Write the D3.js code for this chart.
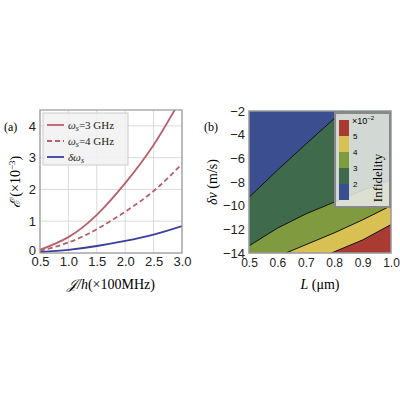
<!DOCTYPE html><html><head><script src="https://d3js.org/d3.v7.min.js"></script>
<style>body{margin:0;background:#fff}text{font-family:"Liberation Sans",Arial,sans-serif}</style></head><body>
<svg id="s" width="400" height="400"></svg>
<script>
const xA=[0.5,1.0,1.5,2.0,2.5,3.0];
const s3=[0.1,0.5,1.2,2.2,3.4,4.9];
const s4=[0.07,0.33,0.75,1.3,1.95,2.8];
const sd=[0.03,0.1,0.22,0.38,0.58,0.85];
const leftTicksX=[0.5,1.0,1.5,2.0,2.5,3.0];
const leftTicksY=[0,1,2,3,4];
const b2=[[0.5,-9.3],[0.6,-7.0],[0.7,-4.8],[0.83,-2]];
const b3=[[0.5,-13.4],[0.6,-11.9],[0.7,-10.7],[0.8,-9.7],[0.9,-8.7],[1.0,-7.8]];
const b4=[[0.63,-14],[0.7,-13.3],[0.8,-12.3],[0.9,-11.2],[1.0,-10.0]];
const b5=[[0.79,-14],[0.9,-12.9],[1.0,-11.6]];
const levels=[2,3,4,5,6];
const colors=["#3b4f90","#3f6a4c","#7f9a3f","#d8c052","#a93b33"];
const rightTicksX=[0.5,0.6,0.7,0.8,0.9,1.0];
const rightTicksY=[-14,-12,-10,-8,-6,-4,-2];

const svg=d3.select("#s");
const x=d3.scaleLinear([0.5,3.0],[40,182]);
const y=d3.scaleLinear([0,4.5],[253,110]);
const L=svg.append("g");
L.append("defs").append("clipPath").attr("id","cl").append("rect").attr("x",40).attr("y",110).attr("width",142).attr("height",143);
L.selectAll(".gx").data(leftTicksX).join("line").attr("x1",d=>x(d)).attr("x2",d=>x(d)).attr("y1",110).attr("y2",253).attr("stroke","#ccc").attr("stroke-width",0.7);
L.selectAll(".gy").data(leftTicksY).join("line").attr("y1",d=>y(d)).attr("y2",d=>y(d)).attr("x1",40).attr("x2",182).attr("stroke","#ccc").attr("stroke-width",0.7);
const ln=d3.line().x((d,i)=>x(xA[i])).y(d=>y(d)).curve(d3.curveNatural);
const cg=L.append("g").attr("clip-path","url(#cl)");
cg.append("path").attr("d",ln(s3)).attr("fill","none").attr("stroke","#b5606a").attr("stroke-width",1.8);
cg.append("path").attr("d",ln(s4)).attr("fill","none").attr("stroke","#b5606a").attr("stroke-width",1.8).attr("stroke-dasharray","5,3");
cg.append("path").attr("d",ln(sd)).attr("fill","none").attr("stroke","#3a3f9c").attr("stroke-width",1.8);
L.append("rect").attr("x",40).attr("y",110).attr("width",142).attr("height",143).attr("fill","none").attr("stroke","#999").attr("stroke-width",1.2);
L.append("g").attr("transform","translate(0,253)").call(d3.axisBottom(x).tickValues(leftTicksX).tickFormat(d3.format(".1f")).tickSize(0).tickPadding(4)).call(g=>{g.select(".domain").remove();g.selectAll("text").attr("font-size",13).attr("fill","#222");});
L.append("g").attr("transform","translate(40,0)").call(d3.axisLeft(y).tickValues(leftTicksY).tickFormat(d3.format("d")).tickSize(0).tickPadding(4)).call(g=>{g.select(".domain").remove();g.selectAll("text").attr("font-size",13).attr("fill","#222");g.selectAll(".tick text").filter(d=>d===0).attr("dy","0.1em");});
L.append("rect").attr("x",43).attr("y",113).attr("width",85).attr("height",52).attr("fill","#f2f2f2").attr("fill-opacity",0.9).attr("stroke","#ccc");
const leg=[["ω","s","=3 GHz","#b5606a",null],["ω","s","=4 GHz","#b5606a","5,3"],["δω","s","","#3a3f9c",null]];
leg.forEach((d,i)=>{const yy=125+i*16;
L.append("line").attr("x1",47).attr("x2",64).attr("y1",yy).attr("y2",yy).attr("stroke",d[3]).attr("stroke-width",1.8).attr("stroke-dasharray",d[4]);
const t=L.append("text").attr("x",68).attr("y",yy+4).attr("font-size",11).style("font-family","'Liberation Serif',serif").attr("fill","#222");
t.append("tspan").attr("font-style","italic").text(d[0]);t.append("tspan").attr("font-style","italic").attr("font-size",8).attr("dy",2).text(d[1]);t.append("tspan").attr("dy",-2).text(d[2]);});
L.append("text").attr("x",4).attr("y",131).attr("font-size",12).style("font-family","'Liberation Serif',serif").text("(a)");
const yl=L.append("text").attr("transform","translate(20,182) rotate(-90)").attr("text-anchor","middle").attr("font-size",14).style("font-family","'Liberation Serif',serif");
yl.append("tspan").attr("font-style","italic").text("ℰ ");yl.append("tspan").text("(×10");yl.append("tspan").attr("font-size",9).attr("dy",-5).text("−3");yl.append("tspan").attr("dy",5).text(")");
const xl=L.append("text").attr("x",111).attr("y",289).attr("text-anchor","middle").attr("font-size",14).style("font-family","'Liberation Serif',serif");
xl.append("tspan").attr("font-style","italic").text("𝒥/h");xl.append("tspan").text("(×100MHz)");

const X=d3.scaleLinear([0.5,1.0],[249,391]);
const Y=d3.scaleLinear([-14,-2],[253,111]);
const R=svg.append("g");
const P=pts=>pts.map(p=>[X(p[0]),Y(p[1])]);
const poly=p=>"M"+p.map(q=>q.join(",")).join("L")+"Z";
const TL=[0.5,-2],TR=[1.0,-2],BL=[0.5,-14],BR=[1.0,-14];
R.append("path").attr("d",poly(P([TL,TR,BR,BL]))).attr("fill",colors[0]);
R.append("path").attr("d",poly(P([...b2,TR,BR,BL]))).attr("fill",colors[1]);
R.append("path").attr("d",poly(P([...b3,BR,BL]))).attr("fill",colors[2]);
R.append("path").attr("d",poly(P([...b4,BR]))).attr("fill",colors[3]);
R.append("path").attr("d",poly(P([...b5,BR]))).attr("fill",colors[4]);
const l2=d3.line().x(d=>X(d[0])).y(d=>Y(d[1]));
[b2,b3,b4,b5].forEach(b=>R.append("path").attr("d",l2(b)).attr("fill","none").attr("stroke","#111").attr("stroke-width",1));
R.append("rect").attr("x",249).attr("y",111).attr("width",142).attr("height",142).attr("fill","none").attr("stroke","#999").attr("stroke-width",1.5);
R.append("g").attr("transform","translate(0,253)").call(d3.axisBottom(X).tickValues(rightTicksX).tickFormat(d3.format(".1f")).tickSize(0).tickPadding(5)).call(g=>{g.select(".domain").remove();g.selectAll("text").attr("font-size",12).attr("fill","#222");});
R.append("g").attr("transform","translate(249,0)").call(d3.axisLeft(Y).tickValues(rightTicksY).tickFormat(d=>d<0?"−"+(-d):d).tickSize(0).tickPadding(4)).call(g=>{g.select(".domain").remove();g.selectAll("text").attr("font-size",13).attr("fill","#222");});
R.append("rect").attr("x",335).attr("y",113).attr("width",55).attr("height",94).attr("fill","#ececec").attr("fill-opacity",0.85).attr("stroke","#888").attr("stroke-width",2);
const cy=d3.scaleLinear([1,6],[200,120]);
colors.forEach((c,i)=>R.append("rect").attr("x",339).attr("width",10).attr("y",cy(levels[i])).attr("height",cy(levels[i]-1)-cy(levels[i])).attr("fill",c));
[2,3,4,5].forEach(v=>R.append("text").attr("x",353).attr("y",cy(v)+3).attr("font-size",8).text(v));
const t2=R.append("text").attr("x",352).attr("y",124).attr("font-size",9);t2.append("tspan").text("×10");t2.append("tspan").attr("font-size",6).attr("dy",-4).text("−2");
R.append("text").attr("transform","translate(382,178) rotate(-90)").attr("text-anchor","middle").attr("font-size",13).style("font-family","'Liberation Serif',serif").text("Infidelity");
R.append("text").attr("x",204).attr("y",131).attr("font-size",12).style("font-family","'Liberation Serif',serif").text("(b)");
const yr=R.append("text").attr("transform","translate(217,182) rotate(-90)").attr("text-anchor","middle").attr("font-size",14).style("font-family","'Liberation Serif',serif");
yr.append("tspan").attr("font-style","italic").text("δv");yr.append("tspan").text(" (m/s)");
const xr=R.append("text").attr("x",320).attr("y",289).attr("text-anchor","middle").attr("font-size",14).style("font-family","'Liberation Serif',serif");
xr.append("tspan").attr("font-style","italic").text("L");xr.append("tspan").text(" (μm)");
</script></body></html>
